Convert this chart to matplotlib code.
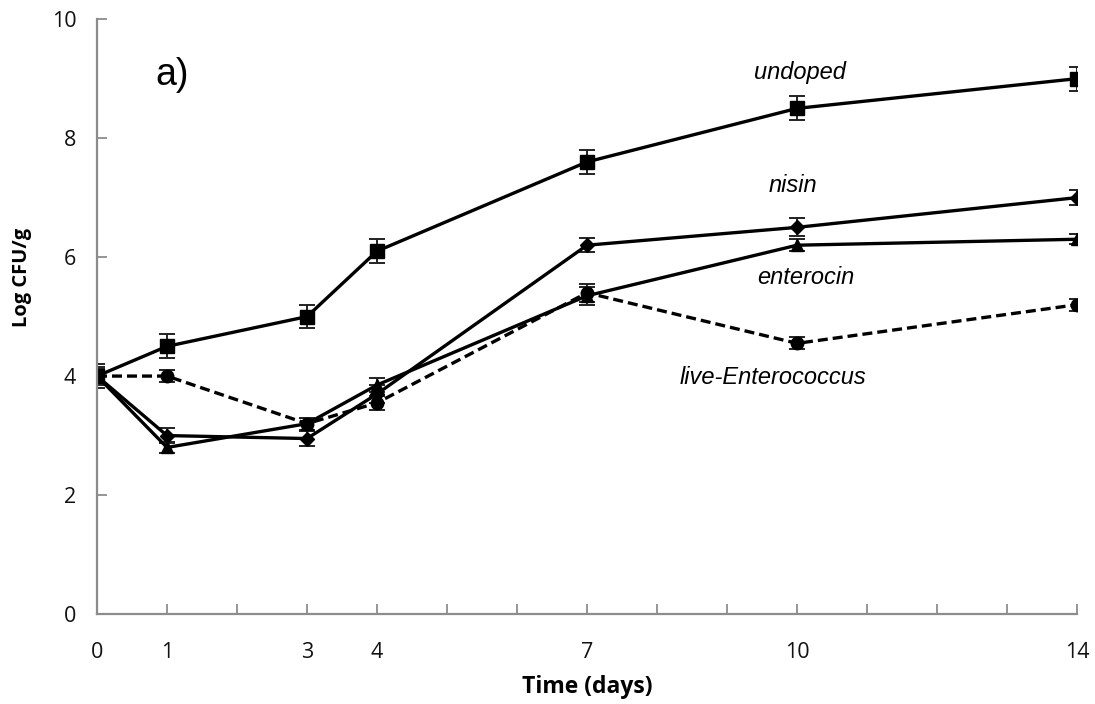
import matplotlib
matplotlib.use("Agg")
import matplotlib.pyplot as plt

days = [0, 1, 3, 4, 7, 10, 14]
undoped = [4.0, 4.5, 5.0, 6.1, 7.6, 8.5, 9.0]
undoped_err = [0.2, 0.2, 0.2, 0.2, 0.2, 0.2, 0.2]
nisin = [4.0, 3.0, 2.95, 3.7, 6.2, 6.5, 7.0]
nisin_err = [0.15, 0.12, 0.12, 0.15, 0.12, 0.15, 0.12]
enterocin = [4.0, 2.8, 3.2, 3.85, 5.35, 6.2, 6.3]
enterocin_err = [0.12, 0.1, 0.1, 0.12, 0.15, 0.1, 0.08]
live = [4.0, 4.0, 3.2, 3.55, 5.4, 4.55, 5.2]
live_err = [0.1, 0.1, 0.1, 0.12, 0.15, 0.1, 0.1]

labeled_days = [0, 1, 3, 4, 7, 10, 14]
y_ticks = [0, 2, 4, 6, 8, 10]

plt.rcParams['font.family'] = ['Open Sans', 'DejaVu Sans']
fig = plt.figure(figsize=(10.95, 7.04), dpi=100)
ax = fig.add_axes([0.0886, 0.1278, 0.895, 0.845])

kw = dict(color='black', lw=2.4, capsize=6, elinewidth=1.4, capthick=1.4, ecolor='#222222')
ax.errorbar(days, undoped, yerr=undoped_err, marker='s', ms=10, ls='-', **kw)
ax.errorbar(days, nisin, yerr=nisin_err, marker='D', ms=7, ls='-', **kw)
ax.errorbar(days, enterocin, yerr=enterocin_err, marker='^', ms=9, ls='-', **kw)
ax.errorbar(days, live, yerr=live_err, marker='o', ms=9, ls=(0, (3, 1.5)), **kw)

ax.set_xlim(0, 14)
ax.set_ylim(0, 10)
ax.set_xticks(range(0, 15))
ax.set_xticklabels([str(d) if d in labeled_days else '' for d in range(0, 15)])
ax.set_yticks(y_ticks)
for s in ['top', 'right']:
    ax.spines[s].set_visible(False)
for s in ['left', 'bottom']:
    ax.spines[s].set_color('#8c8c8c')
    ax.spines[s].set_linewidth(1.6)
ax.tick_params(axis='x', direction='in', length=7, width=1.3, color='#8c8c8c',
               labelsize=15.5, labelcolor='#111111', pad=20)
ax.tick_params(axis='y', direction='in', length=7, width=1.3, color='#8c8c8c',
               labelsize=15.5, labelcolor='#111111', pad=15)
ax.set_xlabel('Time (days)', fontsize=16.5, fontweight='bold', labelpad=9)
ax.set_ylabel('Log CFU/g', fontsize=14.5, fontweight='bold')
ax.yaxis.set_label_coords(-0.066, 0.565)

tk = dict(fontsize=17, style='italic', ha='center', va='center', family=['Liberation Sans', 'DejaVu Sans'])
ax.text(10.04, 9.1, 'undoped', **tk)
ax.text(9.94, 7.2, 'nisin', **tk)
ax.text(10.13, 5.66, 'enterocin', **tk)
ax.text(9.66, 3.98, 'live-Enterococcus', **tk)
ax.text(1.07, 9.06, 'a)', fontsize=27, ha='center', va='center', family=['Liberation Sans', 'DejaVu Sans'])

fig.savefig('out.png', dpi=100)
